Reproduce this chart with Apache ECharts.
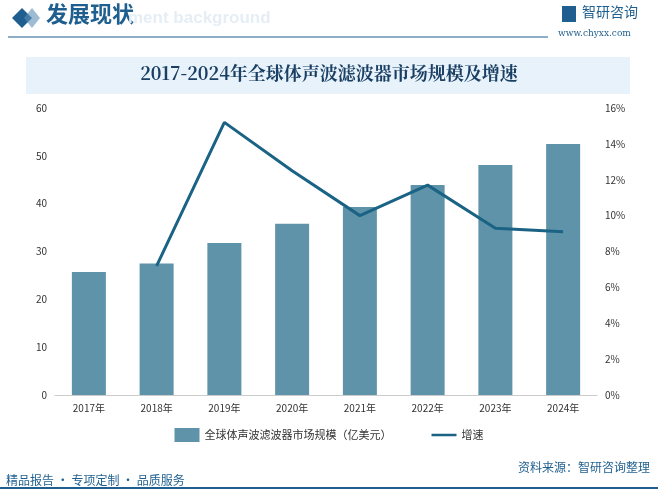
<!DOCTYPE html>
<html>
<head>
<meta charset="utf-8">
<script src="https://cdn.jsdelivr.net/npm/echarts@6/dist/echarts.min.js"></script>
<style>html,body{margin:0;padding:0;background:#fff}#chart{width:658px;height:491px}</style>
</head>
<body>
<div id="chart"></div>
<script>
const years = ["2017年", "2018年", "2019年", "2020年", "2021年", "2022年", "2023年", "2024年"];
const marketSize = [25.7, 27.5, 31.8, 35.8, 39.3, 43.9, 48.1, 52.5];
const growth = [null, 7.2, 15.2, 12.5, 10.0, 11.7, 9.3, 9.1];

const chart = echarts.init(document.getElementById("chart"));
chart.setOption({
  backgroundColor: "#fff",
  textStyle: { fontFamily: "Noto Sans CJK SC" },
  graphic: [
    { type: "polygon", shape: { points: [[22, 8], [32, 18], [22, 28], [12, 18]] }, style: { fill: "#1f5f8f" } },
    { type: "polygon", shape: { points: [[32, 8], [40, 18], [32, 28], [24, 18]] }, style: { fill: "#5b8fb5", opacity: 0.6 } },
    { type: "text", left: 46, top: 3, style: { text: "发展现状", fill: "#1f5f8f", font: "bold 22px 'Noto Sans CJK SC'" } },
    { type: "text", left: 128, top: 10, style: { text: "ment background", fill: "#e6eef5", font: "bold 17px 'Liberation Sans'" } },
    { type: "line", shape: { x1: 8, y1: 37, x2: 548, y2: 37 }, style: { stroke: "#1f5f8f", lineWidth: 1 } },
    { type: "rect", shape: { x: 562, y: 6, width: 14, height: 16 }, style: { fill: "#1f5f8f" } },
    { type: "text", left: 582, top: 5, style: { text: "智研咨询", fill: "#1f5f8f", font: "14px 'Noto Sans CJK SC'" } },
    { type: "text", left: 558, top: 29, style: { text: "www.chyxx.com", fill: "#1f5f8f", font: "9px 'DejaVu Serif'" } },
    { type: "rect", shape: { x: 26, y: 57, width: 604, height: 37 }, style: { fill: "#e7f2fb" } },
    { type: "text", left: "center", top: 64, style: { text: "2017-2024年全球体声波滤波器市场规模及增速", fill: "#1a3f63", font: "bold 18px 'Noto Serif CJK SC', 'Noto Sans CJK SC'" } },
    { type: "text", left: 6, top: 474, style: { text: "精品报告 · 专项定制 · 品质服务", fill: "#1f5f8f", font: "12px 'Noto Sans CJK SC'" } },
    { type: "text", right: 8, top: 461, style: { text: "资料来源：智研咨询整理", fill: "#1f5f8f", font: "12px 'Noto Sans CJK SC'" } },
    { type: "line", shape: { x1: 0, y1: 488, x2: 658, y2: 488 }, style: { stroke: "#1f5f8f", lineWidth: 2 } }
  ],
  grid: { left: 55, right: 61, top: 108, bottom: 96 },
  legend: {
    bottom: 44,
    itemGap: 40,
    textStyle: { fontSize: 11, color: "#333" },
    data: [
      { name: "全球体声波滤波器市场规模（亿美元）", icon: "rect" },
      { name: "增速", icon: "path://M0,0L30,0L30,3L0,3Z", itemStyle: { color: "#1a6384" } }
    ]
  },
  xAxis: {
    type: "category",
    data: years,
    axisTick: { show: false },
    axisLine: { lineStyle: { color: "#ccc" } },
    axisLabel: { color: "#333", fontSize: 10 }
  },
  yAxis: [
    { type: "value", min: 0, max: 60, interval: 10, splitLine: { show: false }, axisLabel: { color: "#333", fontSize: 10 } },
    { type: "value", min: 0, max: 16, interval: 2, splitLine: { show: false }, axisLabel: { color: "#333", fontSize: 10, formatter: "{value}%" } }
  ],
  series: [
    { name: "全球体声波滤波器市场规模（亿美元）", type: "bar", data: marketSize, barWidth: 34, itemStyle: { color: "#5f93a9" } },
    { name: "增速", type: "line", yAxisIndex: 1, data: growth, symbol: "none", lineStyle: { width: 3, color: "#1a6384" }, itemStyle: { color: "#1a6384" } }
  ]
});
</script>
</body>
</html>
